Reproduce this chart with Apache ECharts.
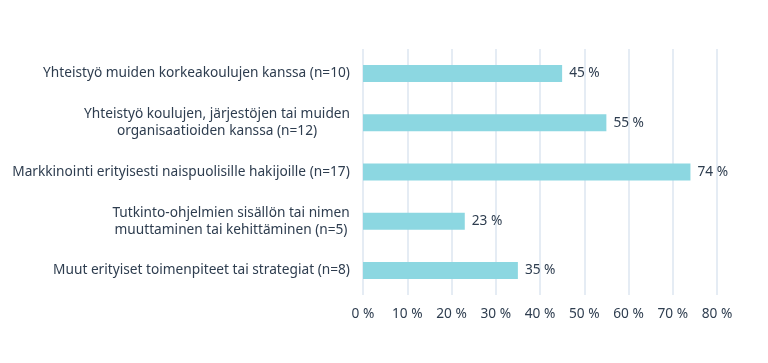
<!DOCTYPE html>
<html>
<head>
<meta charset="utf-8">
<script src="https://cdn.jsdelivr.net/npm/echarts@6/dist/echarts.min.js"></script>
<style>html,body{margin:0;padding:0;background:#fff}#c{width:768px;height:363px}</style>
</head>
<body>
<div id="c"></div>
<script>
const categories = [
  "Yhteistyö muiden korkeakoulujen kanssa (n=10)",
  "Yhteistyö koulujen, järjestöjen tai muiden\norganisaatioiden kanssa (n=12)",
  "Markkinointi erityisesti naispuolisille hakijoille (n=17)",
  "Tutkinto-ohjelmien sisällön tai nimen\nmuuttaminen tai kehittäminen (n=5)",
  "Muut erityiset toimenpiteet tai strategiat (n=8)"
];
const values = [45, 55, 74, 23, 35];
const xTicks = [0, 10, 20, 30, 40, 50, 60, 70, 80];

const textColor = '#2e3d4f';
const font = '"Noto Sans", "Open Sans", sans-serif';
const fontSize = 13.7;

// measure each label's widest line so multi-line labels can be centred
const ctx = document.createElement('canvas').getContext('2d');
ctx.font = fontSize + 'px ' + font;
const rich = {};
categories.forEach((c, i) => {
  const w = Math.max(...c.split('\n').map(l => ctx.measureText(l).width));
  rich['w' + i] = {width: Math.ceil(w), align: 'center', color: textColor,
    fontFamily: font, fontSize: fontSize, lineHeight: 17};
});

const chart = echarts.init(document.getElementById('c'), null, {renderer: 'canvas'});
chart.setOption({
  animation: false,
  grid: {left: 363, right: 51, top: 49, bottom: 68, containLabel: false},
  xAxis: {
    type: 'value', min: xTicks[0], max: xTicks[xTicks.length - 1], interval: 10,
    axisLine: {show: false}, axisTick: {show: false},
    splitLine: {show: true, lineStyle: {color: '#dce6f0', width: 1.5}},
    axisLabel: {color: textColor, fontFamily: font, fontSize: fontSize, margin: 12,
      formatter: v => v + ' %'}
  },
  yAxis: {
    type: 'category', data: categories, inverse: true,
    axisLine: {show: false}, axisTick: {show: false},
    axisLabel: {color: textColor, fontFamily: font, fontSize: fontSize, margin: 13,
      align: 'right', lineHeight: 17, rich: rich,
      formatter: (v, i) => v.split('\n').map(l => '{w' + i + '|' + l + '}').join('\n')}
  },
  series: [{
    type: 'bar', data: values, barWidth: 17,
    itemStyle: {color: '#8cd7e1'},
    label: {show: true, position: 'right', distance: 7, color: textColor,
      fontFamily: font, fontSize: fontSize, formatter: p => p.value + ' %'}
  }]
});
</script>
</body>
</html>
